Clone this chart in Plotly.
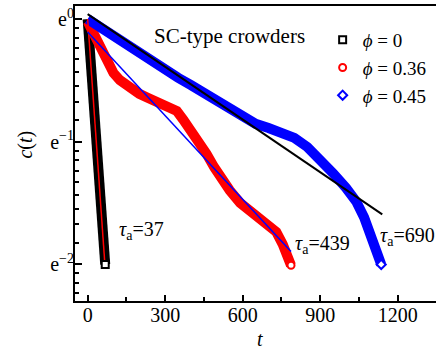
import math
import plotly.graph_objects as go

# ---------------- data ----------------
t_phi0 = [0, 5, 10, 15, 20, 25, 30, 35, 40, 45, 50, 55, 60, 65, 68]
c_phi0 = [1.000, 0.861, 0.748, 0.644, 0.554, 0.482, 0.415, 0.357, 0.310,
          0.267, 0.230, 0.200, 0.172, 0.148, 0.135]

t_phi036 = [0, 20, 40, 60, 80, 100, 125, 150, 175, 200, 230, 260, 290, 320,
            345, 370, 400, 430, 460, 490, 520, 550, 590, 640, 690, 730, 755,
            775, 787]
c_phi036 = [0.980, 0.905, 0.827, 0.756, 0.691, 0.644, 0.607, 0.583, 0.560,
            0.543, 0.527, 0.512, 0.497, 0.487, 0.472, 0.440, 0.403, 0.368,
            0.333, 0.298, 0.270, 0.247, 0.223, 0.204, 0.188, 0.176, 0.159,
            0.142, 0.134]

t_phi045 = [0, 50, 100, 150, 200, 250, 300, 350, 400, 450, 500, 550, 600,
            650, 700, 750, 800, 850, 900, 950, 1000, 1040, 1070, 1100, 1120,
            1136]
c_phi045 = [1.000, 0.932, 0.865, 0.807, 0.752, 0.701, 0.657, 0.619, 0.583,
            0.549, 0.517, 0.487, 0.454, 0.425, 0.411, 0.393, 0.379, 0.352,
            0.320, 0.284, 0.252, 0.225, 0.198, 0.162, 0.147, 0.135]

# exponential fits (end points of the straight lines on the log axis)
fit_phi0_t = [0, 66]
fit_phi0_c = [1.000, 0.138]
fit_phi036_t = [0, 787]
fit_phi036_c = [0.899, 0.150]
fit_phi045_t = [0, 1140]
fit_phi045_c = [1.041, 0.203]

legend_names = ["<i>ϕ</i> = 0", "<i>ϕ</i> = 0.36", "<i>ϕ</i> = 0.45"]
tau_labels = ["<i>τ</i><sub>a</sub>=37", "<i>τ</i><sub>a</sub>=439",
              "<i>τ</i><sub>a</sub>=690"]
tau_pos_t = [114, 794, 1125]
tau_pos_c = [0.178, 0.159, 0.169]

x_ticks = [0, 300, 600, 900, 1200]
x_minor = [150, 450, 750, 1050, 1350]
y_ticks = [1.0, math.exp(-1), math.exp(-2)]
y_ticktext = ["e<sup>0</sup>", "e<sup>−1</sup>", "e<sup>−2</sup>"]

# minor ticks on the base-e log axis: 8 linear subdivisions per decade
y_minor = []
for n in range(-3, 1):
    lo, hi = math.exp(n - 1), math.exp(n)
    for k in range(1, 9):
        y_minor.append(lo + k * (hi - lo) / 9)

FONT = "Liberation Serif, Times New Roman, serif"
BLACK, RED, BLUE = "#000000", "#ff0000", "#0000ff"

fig = go.Figure()

# thick bands formed by the dense data points
for t, c, col in [(t_phi0, c_phi0, BLACK), (t_phi036, c_phi036, RED),
                  (t_phi045, c_phi045, BLUE)]:
    fig.add_trace(go.Scatter(x=t, y=c, mode="lines", showlegend=False,
                             line=dict(color=col, width=10),
                             hoverinfo="skip"))

# fit lines
fig.add_trace(go.Scatter(x=fit_phi0_t, y=fit_phi0_c, mode="lines",
                         showlegend=False, line=dict(color=RED, width=1.5)))
fig.add_trace(go.Scatter(x=fit_phi036_t, y=fit_phi036_c, mode="lines",
                         showlegend=False, line=dict(color=BLUE, width=1.5)))
fig.add_trace(go.Scatter(x=fit_phi045_t, y=fit_phi045_c, mode="lines",
                         showlegend=False, line=dict(color=BLACK, width=2)))

# open end markers (also give the legend entries)
for t, c, col, sym, name in [
        (t_phi0, c_phi0, BLACK, "square", legend_names[0]),
        (t_phi036, c_phi036, RED, "circle", legend_names[1]),
        (t_phi045, c_phi045, BLUE, "diamond", legend_names[2])]:
    fig.add_trace(go.Scatter(x=[t[-1]], y=[c[-1]], mode="markers", name=name,
                             marker=dict(symbol=sym, size=7, color="white",
                                         line=dict(color=col, width=2))))

annotations = [
    dict(x=248, y=math.log10(math.exp(-0.139)), xref="x", yref="y",
         text="SC-type crowders", showarrow=False, xanchor="left",
         yanchor="middle", font=dict(size=21, color="black", family=FONT)),
    # axis titles
    dict(x=0.5125, y=-0.13, xref="paper", yref="paper", text="<i>t</i>",
         showarrow=False, xanchor="center", yanchor="middle",
         font=dict(size=20, color="black", family=FONT)),
    dict(x=-0.136, y=0.53, xref="paper", yref="paper",
         text="<i>c</i>(<i>t</i>)", textangle=-90,
         showarrow=False, xanchor="center", yanchor="middle",
         font=dict(size=20, color="black", family=FONT)),
]
for lab, tx, cy in zip(tau_labels, tau_pos_t, tau_pos_c):
    annotations.append(dict(x=tx, y=math.log10(cy), xref="x", yref="y",
                            text=lab, showarrow=False, xanchor="left",
                            yanchor="middle",
                            font=dict(size=20, color="black", family=FONT)))

fig.update_layout(
    width=436, height=349,
    margin=dict(l=75, r=0, t=6, b=48, autoexpand=False),
    paper_bgcolor="white", plot_bgcolor="white",
    font=dict(family=FONT, size=20, color="black"),
    showlegend=True,
    legend=dict(xref="container", yref="container",
                x=0.740, y=0.94, xanchor="left", yanchor="top",
                bgcolor="rgba(0,0,0,0)", borderwidth=0,
                font=dict(size=19, family=FONT), itemwidth=30,
                tracegroupgap=0),
    annotations=annotations,
)

fig.update_xaxes(
    range=[-49, 1348], showgrid=False, zeroline=False,
    showline=True, linecolor="black", linewidth=2, mirror=True,
    ticks="inside", ticklen=6, tickwidth=2, tickcolor="black",
    tickmode="array", tickvals=x_ticks,
    tickfont=dict(size=20, family=FONT), ticklabelstandoff=-5,
    minor=dict(tickmode="array", tickvals=x_minor, ticks="inside",
               ticklen=4, tickwidth=2, tickcolor="black"),
)
fig.update_yaxes(
    type="log", range=[-0.9993, 0.0462], showgrid=False, zeroline=False,
    showline=True, linecolor="black", linewidth=2, mirror=False,
    ticks="inside", ticklen=7, tickwidth=2, tickcolor="black",
    tickmode="array", tickvals=y_ticks, ticktext=y_ticktext,
    tickfont=dict(size=20, family=FONT), ticklabelstandoff=-5,
    minor=dict(tickmode="array", tickvals=y_minor, ticks="inside",
               ticklen=4, tickwidth=2, tickcolor="black"),
)

fig.write_html("out.html",
               config={"displayModeBar": False},
               post_script="document.body.style.margin='0';"
                           "document.body.style.overflow='hidden';")
